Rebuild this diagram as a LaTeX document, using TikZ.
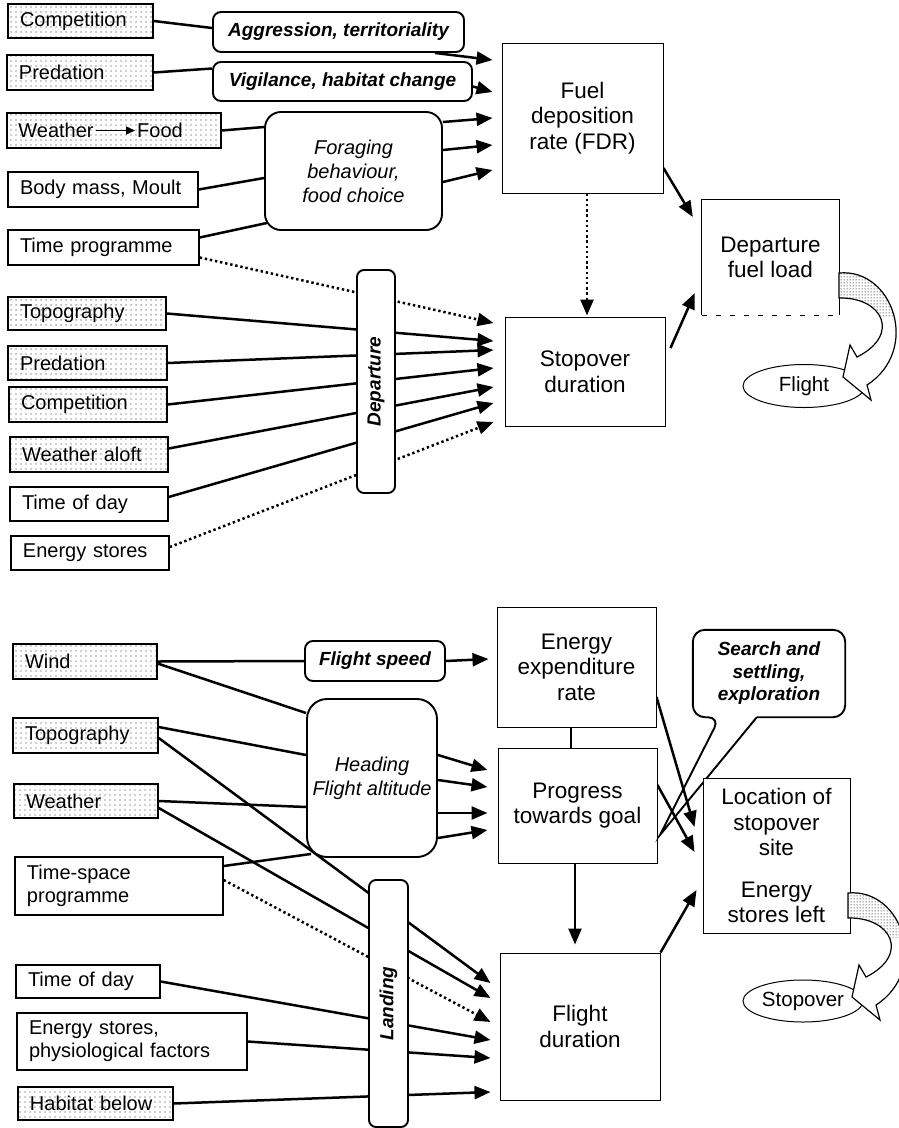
\documentclass[tikz,border=0pt]{standalone}
\usepackage{fontspec}
\setmainfont{Liberation Sans}
\usetikzlibrary{arrows.meta,calc,shapes.geometric,patterns.meta}
\pgfdeclarelayer{bg}
\pgfsetlayers{bg,main}
\newcommand\sfs{\fontsize{20}{23}\selectfont}
\newcommand\mfs{\fontsize{22.5}{25.5}\selectfont}
\newcommand\itfs{\fontsize{20}{24}\selectfont\itshape}
\newcommand\bitfs{\fontsize{19}{22.5}\selectfont\bfseries\itshape}
\tikzdeclarepattern{
  name=ldots, type=uncolored,
  bottom left={(0pt,0pt)}, top right={(4.5pt,4.5pt)}, tile size={(4.5pt,4.5pt)},
  code={\pgfpathcircle{\pgfqpoint{2.25pt}{2.25pt}}{0.7pt}\pgfusepath{fill}}
}
\tikzdeclarepattern{
  name=fdots, type=uncolored,
  bottom left={(0pt,0pt)}, top right={(2.6pt,2.6pt)}, tile size={(2.6pt,2.6pt)},
  code={\pgfpathcircle{\pgfqpoint{1.3pt}{1.3pt}}{0.65pt}\pgfusepath{fill}}
}
\tikzset{
  conn/.style={line width=2.5pt},
  arr/.style={line width=2.5pt,-{Triangle[length=16pt,width=13pt]}},
  dotl/.style={dash pattern=on 2.4pt off 2.8pt},
  sb/.style={draw, line width=1.4pt, inner xsep=12pt, inner ysep=0pt, align=left, font=\sfs, fill=white},
  sh/.style={draw, line width=1.4pt, inner xsep=12pt, inner ysep=0pt, align=left, font=\sfs, pattern=ldots, pattern color=black!80},
  mb/.style={draw, line width=1pt, inner sep=0pt, align=center, font=\mfs, fill=white},
  rb/.style={draw, line width=1.9pt, rounded corners=8pt, inner sep=0pt, align=center, fill=white},
  bar/.style={draw, line width=1.9pt, rounded corners=7pt, inner sep=0pt, fill=white, font=\bitfs},
  fatarrow/.style={insert path={(0,0) .. controls (54,-5) and (82,77) .. (28,112) -- (32,127) -- (4,104) -- (11,72) -- (18,84) .. controls (62,62) and (44,24) .. (0,25) -- cycle}},
}
\begin{document}
\begin{tikzpicture}[x=1pt,y=-1pt]
\useasboundingbox (0,0) rectangle (898,1128);

% ---------- upper part ----------
\node[sh, text width=121pt, minimum height=34pt] (comp1) at (80.5,21) {Competition};
\node[sh, text width=122pt, minimum height=35pt] (pred1) at (80,72.5) {Predation};
\node[draw, line width=1.4pt, pattern=ldots, pattern color=black!80, minimum width=214pt, minimum height=35pt, inner sep=0pt] (wf) at (114,130.5) {};
\node[font=\sfs, inner sep=2pt] (wtx) at (56,130.5) {Weather};
\node[font=\sfs, inner sep=2pt] (ftx) at (160,130.5) {Food};
\draw[line width=1.4pt, -{Triangle[length=9pt,width=8pt]}] (wtx.east) -- (ftx.west);
\node[sb, text width=166pt, minimum height=35pt] (body) at (103,189.5) {Body mass, Moult};
\node[sb, text width=167pt, minimum height=35pt] (tprog) at (103.5,247.5) {Time programme};

\node[rb, font=\bitfs, minimum width=251pt, minimum height=40pt] (aggr) at (338.5,32) {Aggression, territoriality};
\node[rb, font=\bitfs, minimum width=259pt, minimum height=39pt] (vig) at (342.5,81.5) {Vigilance, habitat change};
\node[rb, rounded corners=16pt, font=\itfs, minimum width=177pt, minimum height=118pt] (forag) at (353.5,171) {Foraging\\behaviour,\\food choice};

\node[mb, minimum width=161pt, minimum height=150pt] (fdr) at (582.5,118) {Fuel\\deposition\\rate (FDR)};
\node[inner sep=0pt, align=center, font=\mfs, minimum width=137pt, minimum height=115pt] (dfl) at (770.5,257.5) {Departure\\fuel load};
\draw[line width=1pt] (dfl.south west) -- (dfl.north west) -- (dfl.north east) -- (dfl.south east);
\draw[line width=0.8pt, dash pattern=on 5pt off 9pt] (dfl.south west) -- (dfl.south east);
\node[mb, minimum width=160pt, minimum height=109pt] (sd) at (585,371.5) {Stopover\\duration};

\node[sh, text width=134pt, minimum height=33pt] (topo2) at (87,313.5) {Topography};
\node[sh, text width=135pt, minimum height=34pt] (pred2) at (87.5,363) {Predation};
\node[sh, text width=134pt, minimum height=35pt] (comp2) at (88,404.5) {Competition};
\node[sh, text width=134pt, minimum height=35pt] (wa) at (89,454.5) {Weather aloft};
\node[sb, text width=134pt, minimum height=34pt] (tod2) at (89,504) {Time of day};
\node[sb, text width=134pt, minimum height=34pt] (es2) at (90,553) {Energy stores};

\node[bar, minimum width=223pt, minimum height=38pt, rotate=90] (dep) at (376,381.5) {Departure};

\node[draw, ellipse, line width=1pt, minimum width=122pt, minimum height=43pt, inner sep=0pt, font=\fontsize{20.5}{23}\selectfont] (flight) at (804,386) {Flight};

% ---------- lower part ----------
\node[sh, text width=120pt, minimum height=35pt] (wind) at (85,661.5) {Wind};
\node[sh, text width=121pt, minimum height=35pt] (topo3) at (85.5,735.5) {Topography};
\node[sh, text width=120pt, minimum height=34pt] (weather3) at (86,801) {Weather};
\node[sb, text width=184pt, minimum height=58pt] (ts) at (119,886) {Time-space\\programme};
\node[sb, text width=120pt, minimum height=33pt] (tod3) at (88,981.5) {Time of day};
\node[sb, text width=206pt, minimum height=57pt] (es3) at (132,1041.5) {Energy stores,\\physiological factors};
\node[sh, text width=131pt, minimum height=33pt] (hab) at (95.5,1103.5) {Habitat below};

\node[rb, font=\bitfs, minimum width=140pt, minimum height=40pt] (fs) at (375,661) {Flight speed};
\node[rb, rounded corners=20pt, font=\itfs, minimum width=130pt, minimum height=158pt] (hd) at (372,778) {Heading\\Flight altitude};

\node[mb, minimum width=159pt, minimum height=120pt] (ee) at (576.5,667) {Energy\\expenditure\\rate};
\node[mb, minimum width=159pt, minimum height=115pt] (pg) at (577.5,805.5) {Progress\\towards goal};
\node[inner sep=0pt, minimum width=152pt, minimum height=87pt, align=center, font=\bitfs] (sr) at (769,673.5) {Search and\\settling,\\exploration};
\coordinate (srtip) at (660,835);
\draw[line width=1.9pt, rounded corners=12pt] ($(sr.south west)+(64,0)$) -- (sr.south east) -- (sr.north east) -- (sr.north west) -- (sr.south west) -- ($(sr.south west)+(27,0)$) [sharp corners] -- (srtip) -- ($(sr.south west)+(64,0)$);
\node[mb, minimum width=147pt, minimum height=155pt] (ls) at (776.5,855.5) {Location of\\stopover\\site\\[16pt]Energy\\stores left};
\node[mb, minimum width=160pt, minimum height=147pt] (fd) at (580,1026.5) {Flight\\duration};

\node[bar, minimum width=247pt, minimum height=39pt, rotate=90] (ld) at (388.5,1003.5) {Landing};

\node[draw, ellipse, line width=1pt, minimum width=120pt, minimum height=42pt, inner sep=0pt, font=\fontsize{20.5}{23}\selectfont] (stop) at (803,1001) {Stopover};

% ---------- connectors ----------
\begin{pgfonlayer}{bg}
\draw[conn] (comp1.east) -- ($(aggr.west)+(0,-4)$);
\draw[conn] (pred1.east) -- ($(vig.west)+(0,-13)$);
\draw[conn] (wf.east) -- ($(forag.west)+(0,-44)$);
\draw[conn] (body.east) -- ($(forag.west)+(0,7)$);
\draw[conn] ($(tprog.east)+(0,-10)$) -- ($(forag.south west)+(3,-8)$);
\draw[arr] ($(aggr.south east)+(-30,0)$) -- ($(fdr.west)+(-9,-58)$);
\draw[arr] ($(vig.east)+(0,5)$) -- ($(fdr.west)+(-9,-26)$);
\draw[arr] ($(forag.east)+(0,-49)$) -- ($(fdr.west)+(-9,0)$);
\draw[arr] ($(forag.east)+(0,-21)$) -- ($(fdr.west)+(-9,27)$);
\draw[arr] ($(forag.east)+(0,11)$) -- ($(fdr.west)+(-9,52)$);

\draw[arr,dotl] ($(tprog.east)+(0,10)$) -- ($(sd.west)+(-11,-48.5)$);
\draw[arr] (topo2.east) -- ($(sd.west)+(-11,-30.5)$);
\draw[arr] (pred2.east) -- ($(sd.west)+(-11,-21.5)$);
\draw[arr] (comp2.east) -- ($(sd.west)+(-11,-3.5)$);
\draw[arr] ($(wa.east)+(0,-6)$) -- ($(sd.west)+(-11,15.5)$);
\draw[arr] ($(tod2.east)+(0,-7)$) -- ($(sd.west)+(-11,31.5)$);
\draw[arr,dotl] ($(es2.east)+(0,-6)$) -- ($(sd.west)+(-11,50.5)$);

\draw[arr,dotl] ($(fdr.south)+(4.5,0)$) -- ($(sd.north)+(2,-1)$);
\draw[arr] ($(fdr.east)+(0,50)$) -- ($(dfl.west)+(-9,-40.5)$);
\draw[arr] ($(sd.east)+(5,-23.5)$) -- ($(dfl.west)+(-7,35.5)$);

\draw[conn] (wind.east) -- (fs.west);
\draw[conn] ($(wind.east)+(0,2)$) -- ($(hd.west)+(0,-65)$);
\draw[conn] ($(topo3.east)+(0,-8.5)$) -- ($(hd.west)+(0,-23)$);
\draw[conn] (weather3.east) -- ($(hd.west)+(0,29)$);
\draw[conn] ($(ts.east)+(0,-20)$) -- ($(hd.south west)+(5,-4)$);
\draw[arr] (fs.east) -- ($(ee.west)+(-8,-8)$);
\draw[arr] ($(hd.east)+(0,-23)$) -- ($(pg.west)+(-10,-35.5)$);
\draw[arr] ($(hd.east)+(0,2)$) -- ($(pg.west)+(-10,-18.5)$);
\draw[arr] ($(hd.east)+(0,35)$) -- ($(pg.west)+(-10,7.5)$);
\draw[arr] ($(hd.east)+(0,60)$) -- ($(pg.west)+(-10,24.5)$);

\draw[line width=1.5pt] ($(ee.south)+(-5.5,0)$) -- ($(pg.north)+(-6.5,0)$);
\draw[arr] ($(ee.east)+(0,30)$) -- ($(ls.west)+(-8,-28.5)$);
\draw[arr] ($(pg.east)+(0,-20.5)$) -- ($(ls.west)+(-8,-3.5)$);
\draw[arr] ($(pg.south)+(-2.5,0)$) -- ($(fd.north)+(-5,-8)$);
\draw[arr] (fd.north east) -- ($(ls.west)+(-6,34.5)$);

\draw[arr] ($(topo3.east)+(0,2.5)$) -- ($(fd.west)+(-9,-43.5)$);
\draw[arr] ($(weather3.east)+(0,7)$) -- ($(fd.west)+(-9,-28.5)$);
\draw[arr,dotl] ($(ts.east)+(0,-6)$) -- ($(fd.west)+(-9,-4.5)$);
\draw[arr] (tod3.east) -- ($(fd.west)+(-9,13.5)$);
\draw[arr] (es3.east) -- ($(fd.west)+(-9,31.5)$);
\draw[arr] (hab.east) -- ($(fd.west)+(-9,65.5)$);
\end{pgfonlayer}

% ---------- broad curved arrows ----------
\begin{scope}[shift={(839,273)}]
  \fill[white, fatarrow];
  \begin{scope}
    \clip[fatarrow];
    \fill[pattern=fdots, pattern color=black!80] (-2,-8) rectangle (95,44);
  \end{scope}
  \draw[line width=1.2pt, fatarrow];
\end{scope}
\begin{scope}[shift={(848,893)}]
  \fill[white, fatarrow];
  \begin{scope}
    \clip[fatarrow];
    \fill[pattern=fdots, pattern color=black!80] (-2,-8) rectangle (95,44);
  \end{scope}
  \draw[line width=1.2pt, fatarrow];
\end{scope}
\end{tikzpicture}
\end{document}
